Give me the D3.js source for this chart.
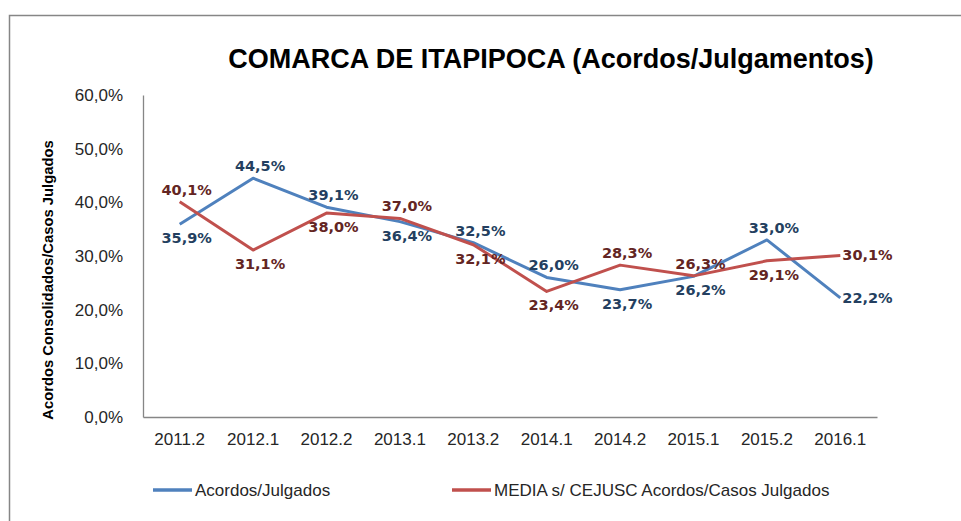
<!DOCTYPE html>
<html lang="pt">
<head>
<meta charset="UTF-8">
<title>COMARCA DE ITAPIPOCA (Acordos/Julgamentos)</title>
<script src="https://d3js.org/d3.v7.min.js"></script>
<style>
    body { margin: 0; background: white; }
    svg { display: block; }
    .tick-label { font-family: "Liberation Sans", Arial, sans-serif; font-size: 17px; fill: #262626; }
    .data-label { font-family: "DejaVu Sans", Verdana, sans-serif; font-size: 14.5px; font-weight: bold; }
</style>
</head>
<body>
<div id="chart"></div>
<script>
    // data
    const periods = ["2011.2", "2012.1", "2012.2", "2013.1", "2013.2", "2014.1", "2014.2", "2015.1", "2015.2", "2016.1"];
    const acordos = [35.9, 44.5, 39.1, 36.4, 32.5, 26.0, 23.7, 26.2, 33.0, 22.2];
    const media = [40.1, 31.1, 38.0, 37.0, 32.1, 23.4, 28.3, 26.3, 29.1, 30.1];
    const yTicks = [0, 10, 20, 30, 40, 50, 60];
    // where each data label sits relative to its point
    const acordosLabelPos = ["below", "above", "above", "below", "above", "above", "below", "below", "above", "right"];
    const mediaLabelPos = ["above", "below", "below", "above", "below", "below", "above", "above", "below", "right"];

    const width = 961, height = 521;
    const margin = { left: 143, right: 84, top: 95, bottom: 104 };

    const series = [
        { name: "Acordos/Julgados", values: acordos, pos: acordosLabelPos, line: "#4F81BD", text: "#243F60" },
        { name: "MEDIA s/ CEJUSC Acordos/Casos Julgados", values: media, pos: mediaLabelPos, line: "#C0504D", text: "#632523" }
    ];

    const svg = d3.select("#chart").append("svg")
        .attr("width", width)
        .attr("height", height);

    // outer chart border
    svg.append("rect")
        .attr("x", 9.5).attr("y", 15.5)
        .attr("width", 1000).attr("height", 600)
        .attr("fill", "none")
        .attr("stroke", "#868686")
        .attr("stroke-width", 1.5);

    const x = d3.scaleBand()
        .domain(periods)
        .range([margin.left, width - margin.right]);
    const y = d3.scaleLinear()
        .domain([0, 60])
        .range([height - margin.bottom, margin.top]);
    const px = d => x(d) + x.bandwidth() / 2;

    // title
    svg.append("text")
        .attr("x", 551)
        .attr("y", 68)
        .attr("text-anchor", "middle")
        .attr("font-family", "Liberation Sans, Arial, sans-serif")
        .attr("font-weight", "bold")
        .attr("font-size", 27)
        .attr("fill", "#000")
        .text("COMARCA DE ITAPIPOCA (Acordos/Julgamentos)");

    // y axis title
    svg.append("text")
        .attr("transform", `translate(53,280) rotate(-90)`)
        .attr("text-anchor", "middle")
        .attr("font-family", "Liberation Sans, Arial, sans-serif")
        .attr("font-weight", "bold")
        .attr("font-size", 14.8)
        .attr("fill", "#000")
        .text("Acordos Consolidados/Casos Julgados");

    // axes
    const fmt = v => d3.format(".1f")(v).replace(".", ",") + "%";
    const yAxis = svg.append("g")
        .attr("transform", `translate(${margin.left},0)`)
        .call(d3.axisLeft(y).tickValues(yTicks).tickSize(0).tickPadding(20).tickFormat(fmt));
    const xAxis = svg.append("g")
        .attr("transform", `translate(0,${height - margin.bottom})`)
        .call(d3.axisBottom(x).tickSize(0).tickPadding(16));
    [yAxis, xAxis].forEach(a => {
        a.select(".domain").attr("stroke", "#868686").attr("stroke-width", 1.3);
        a.selectAll("text").attr("class", "tick-label").attr("font-family", null).attr("font-size", null);
    });

    // lines
    const line = d3.line()
        .x((d, i) => px(periods[i]))
        .y(d => y(d));

    series.forEach(s => {
        svg.append("path")
            .datum(s.values)
            .attr("d", line)
            .attr("fill", "none")
            .attr("stroke", s.line)
            .attr("stroke-width", 3)
            .attr("stroke-linejoin", "round");
    });

    // data labels
    series.forEach(s => {
        svg.selectAll(null)
            .data(s.values)
            .enter().append("text")
            .attr("class", "data-label")
            .attr("fill", s.text)
            .attr("text-anchor", (d, i) => s.pos[i] === "right" ? "start" : "middle")
            .attr("x", (d, i) => s.pos[i] === "right" ? px(periods[i]) + 2 : px(periods[i]) + 7)
            .attr("y", (d, i) => {
                const cy = y(d);
                if (s.pos[i] === "above") return cy - 7;
                if (s.pos[i] === "below") return cy + 19;
                return cy + 5;
            })
            .text(d => fmt(d));
    });

    // legend
    const legendX = [153, 452];
    series.forEach((s, i) => {
        const g = svg.append("g").attr("transform", `translate(${legendX[i]},490)`);
        g.append("line")
            .attr("x1", 0).attr("x2", 39)
            .attr("stroke", s.line)
            .attr("stroke-width", 3.5);
        g.append("text")
            .attr("class", "tick-label")
            .attr("x", 42)
            .attr("y", 6)
            .text(s.name);
    });
</script>
</body>
</html>
